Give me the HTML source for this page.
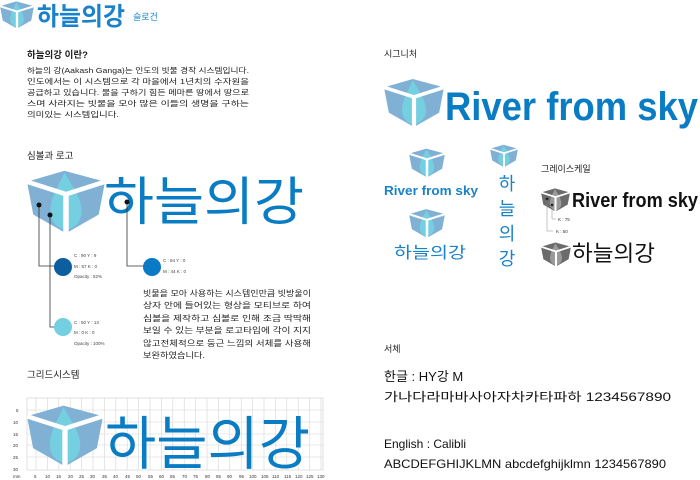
<!DOCTYPE html>
<html><head><meta charset="utf-8"><style>
html,body{margin:0;padding:0;background:#fff;}
svg{display:block;}
text{font-family:"Liberation Sans","Noto Sans CJK KR",sans-serif;}
</style></head><body>
<svg width="700" height="480" viewBox="0 0 700 480" xmlns="http://www.w3.org/2000/svg">
<defs>
<symbol id="logo" viewBox="0 0 100 80">
<polygon points="0,14 48,0 100,14 92,56 50,80 8,56" fill="#80b1d4"/>
<path d="M48,2 C40,20 30,35 30,52 C30,66 40,74 50,76 C60,74 70,66 70,52 C70,35 58,20 48,2Z" fill="#74cfe0"/>
<polyline points="0,14 50,30 100,14" fill="none" stroke="#fff" stroke-width="6"/>
<line x1="50" y1="30" x2="50" y2="80" stroke="#fff" stroke-width="7"/>
</symbol>
<symbol id="glogo" viewBox="0 0 100 80">
<polygon points="0,14 48,0 100,14 92,56 50,80 8,56" fill="#6b6b6b"/>
<path d="M48,2 C40,20 30,35 30,52 C30,66 40,74 50,76 C60,74 70,66 70,52 C70,35 58,20 48,2Z" fill="#9a9a9a"/>
<polyline points="0,14 50,30 100,14" fill="none" stroke="#fff" stroke-width="6"/>
<line x1="50" y1="30" x2="50" y2="80" stroke="#fff" stroke-width="7"/>
</symbol>
</defs>

<!-- header -->
<use href="#logo" x="0" y="0" width="34" height="30"/>
<text x="37" y="25" font-size="25" font-weight="bold" fill="#1a82c8" textLength="88" lengthAdjust="spacingAndGlyphs">하늘의강</text>
<text x="133" y="20" font-size="9" fill="#1a82c8">슬로건</text>

<text x="27" y="58" font-size="9.5" font-weight="bold" fill="#222">하늘의강 이란?</text>
<g font-size="7.2" fill="#222">
<text x="27" y="73" textLength="222" lengthAdjust="spacingAndGlyphs">하늘의 강(Aakash Ganga)는 인도의 빗물 경작 시스템입니다.</text>
<text x="27" y="84" textLength="222" lengthAdjust="spacingAndGlyphs">인도에서는 이 시스템으로 각 마을에서 1년치의 수자원을</text>
<text x="27" y="95" textLength="222" lengthAdjust="spacingAndGlyphs">공급하고 있습니다. 물을 구하기 힘든 메마른 땅에서 땅으로</text>
<text x="27" y="106" textLength="222" lengthAdjust="spacingAndGlyphs">스며 사라지는 빗물을 모아 많은 이들의 생명을 구하는</text>
<text x="27" y="117" textLength="92" lengthAdjust="spacingAndGlyphs">의미있는 시스템입니다.</text>
</g>

<text x="27" y="159" font-size="9.5" fill="#222">심볼과 로고</text>
<use href="#logo" x="27" y="170" width="78" height="64"/>
<text x="104" y="220" font-size="52" fill="#0a7cc4" textLength="200" lengthAdjust="spacingAndGlyphs">하늘의강</text>

<g stroke="#333" stroke-width="0.8" fill="none">
<polyline points="39,205 39,266 60,266"/>
<polyline points="50,215 50,327 58,327"/>
<polyline points="127,202 127,266 145,266"/>
</g>
<circle cx="39" cy="205" r="2.5" fill="#111"/>
<circle cx="50" cy="215" r="2.5" fill="#111"/>
<circle cx="127" cy="202" r="2.5" fill="#111"/>
<circle cx="63" cy="267" r="9" fill="#0b5f9f"/>
<circle cx="63" cy="327" r="9" fill="#74cfe0"/>
<circle cx="152" cy="267" r="9" fill="#0a7ac4"/>
<g font-size="4.5" fill="#444">
<text x="74" y="257">C : 90    Y : 9</text>
<text x="74" y="268">M : 57   K : 0</text>
<text x="74" y="278">Opacity : 52%</text>
<text x="74" y="324">C : 50    Y : 13</text>
<text x="74" y="334">M : 0     K : 0</text>
<text x="74" y="345">Opacity : 100%</text>
<text x="163" y="262">C : 84    Y : 0</text>
<text x="163" y="273">M : 44    K : 0</text>
</g>
<g font-size="8" fill="#222">
<text x="143" y="296" textLength="168" lengthAdjust="spacingAndGlyphs">빗물을 모아 사용하는 시스템인만큼 빗방울이</text>
<text x="143" y="308" textLength="168" lengthAdjust="spacingAndGlyphs">상자 안에 들어있는 형상을 모티브로 하여</text>
<text x="143" y="321" textLength="168" lengthAdjust="spacingAndGlyphs">심볼을 제작하고 심볼로 인해 조금 딱딱해</text>
<text x="143" y="333" textLength="168" lengthAdjust="spacingAndGlyphs">보일 수 있는 부분을 로고타입에 각이 지지</text>
<text x="143" y="346" textLength="168" lengthAdjust="spacingAndGlyphs">않고전체적으로 둥근 느낌의 서체를 사용해</text>
<text x="143" y="358" textLength="62" lengthAdjust="spacingAndGlyphs">보완하였습니다.</text>
</g>

<text x="27" y="378" font-size="9.5" fill="#222">그리드시스템</text>
<!-- grid -->
<g stroke="#d6d6d6" stroke-width="0.6">
<rect x="27" y="398" width="296" height="72" fill="none" stroke="#ccc"/>
<g id="vl">
<line x1="36" y1="398" x2="36" y2="470"/><line x1="47.4" y1="398" x2="47.4" y2="470"/><line x1="58.8" y1="398" x2="58.8" y2="470"/><line x1="70.2" y1="398" x2="70.2" y2="470"/><line x1="81.6" y1="398" x2="81.6" y2="470"/><line x1="93" y1="398" x2="93" y2="470"/><line x1="104.4" y1="398" x2="104.4" y2="470"/><line x1="115.8" y1="398" x2="115.8" y2="470"/><line x1="127.2" y1="398" x2="127.2" y2="470"/><line x1="138.6" y1="398" x2="138.6" y2="470"/><line x1="150" y1="398" x2="150" y2="470"/><line x1="161.4" y1="398" x2="161.4" y2="470"/><line x1="172.8" y1="398" x2="172.8" y2="470"/><line x1="184.2" y1="398" x2="184.2" y2="470"/><line x1="195.6" y1="398" x2="195.6" y2="470"/><line x1="207" y1="398" x2="207" y2="470"/><line x1="218.4" y1="398" x2="218.4" y2="470"/><line x1="229.8" y1="398" x2="229.8" y2="470"/><line x1="241.2" y1="398" x2="241.2" y2="470"/><line x1="252.6" y1="398" x2="252.6" y2="470"/><line x1="264" y1="398" x2="264" y2="470"/><line x1="275.4" y1="398" x2="275.4" y2="470"/><line x1="286.8" y1="398" x2="286.8" y2="470"/><line x1="298.2" y1="398" x2="298.2" y2="470"/><line x1="309.6" y1="398" x2="309.6" y2="470"/><line x1="321" y1="398" x2="321" y2="470"/>
</g>
<line x1="27" y1="410" x2="323" y2="410"/><line x1="27" y1="422" x2="323" y2="422"/><line x1="27" y1="434" x2="323" y2="434"/><line x1="27" y1="445" x2="323" y2="445"/><line x1="27" y1="457" x2="323" y2="457"/>
</g>
<use href="#logo" x="27" y="400" width="76" height="72" preserveAspectRatio="none"/>
<text x="105" y="464" font-size="58" fill="#0a7cc4" textLength="205" lengthAdjust="spacingAndGlyphs">하늘의강</text>
<g font-size="4.5" fill="#333">
<text x="16" y="412">5</text><text x="13" y="424">10</text><text x="13" y="436">15</text><text x="13" y="447">20</text><text x="13" y="459">25</text><text x="13" y="471">30</text><text x="13" y="478">mm</text>
<text x="34" y="478">5</text><text x="45" y="478">10</text><text x="56" y="478">15</text><text x="68" y="478">20</text><text x="79" y="478">25</text><text x="90" y="478">30</text><text x="102" y="478">35</text><text x="113" y="478">40</text><text x="125" y="478">45</text><text x="136" y="478">50</text><text x="148" y="478">55</text><text x="159" y="478">60</text><text x="170" y="478">65</text><text x="182" y="478">70</text><text x="193" y="478">75</text><text x="205" y="478">80</text><text x="216" y="478">85</text><text x="227" y="478">90</text><text x="239" y="478">95</text><text x="249" y="478">100</text><text x="261" y="478">105</text><text x="272" y="478">110</text><text x="284" y="478">115</text><text x="295" y="478">120</text><text x="306" y="478">125</text><text x="317" y="478">130</text>
</g>

<!-- right -->
<text x="384" y="57" font-size="9" fill="#222">시그니처</text>
<use href="#logo" x="384" y="75" width="60" height="56"/>
<text x="445" y="120" font-size="40" font-weight="bold" fill="#0a7cc4" textLength="253" lengthAdjust="spacingAndGlyphs">River from sky</text>

<use href="#logo" x="409" y="145" width="36" height="36"/>
<text x="384" y="195" font-size="13" font-weight="bold" fill="#1a82c8" textLength="94" lengthAdjust="spacingAndGlyphs">River from sky</text>
<use href="#logo" x="409" y="206" width="36" height="35"/>
<text x="394" y="258" font-size="16" fill="#1a82c8" textLength="72" lengthAdjust="spacingAndGlyphs">하늘의강</text>
<use href="#logo" x="490" y="143" width="28" height="26"/>
<g font-size="18" fill="#1a82c8" text-anchor="middle">
<text x="507" y="190">하</text><text x="507" y="215">늘</text><text x="507" y="240">의</text><text x="507" y="265">강</text>
</g>

<text x="541" y="172" font-size="9" fill="#222">그레이스케일</text>
<use href="#glogo" x="541" y="185" width="29" height="30"/>
<text x="572" y="207" font-size="20" font-weight="bold" fill="#111" textLength="126" lengthAdjust="spacingAndGlyphs">River from sky</text>
<circle cx="547" cy="199" r="1.3" fill="#111"/><circle cx="552" cy="205" r="1.3" fill="#111"/>
<g stroke="#888" stroke-width="0.5" fill="none"><polyline points="547,199 547,231 553,231"/><polyline points="552,205 552,219 556,219"/></g>
<g font-size="4.5" fill="#333"><text x="558" y="221">K : 75</text><text x="556" y="233">K : 50</text></g>
<use href="#glogo" x="541" y="240" width="30" height="29"/>
<text x="572" y="261" font-size="22" fill="#111" textLength="83" lengthAdjust="spacingAndGlyphs">하늘의강</text>

<text x="384" y="352" font-size="9" fill="#222">서체</text>
<text x="384" y="381" font-size="13" fill="#111">한글 : HY강 M</text>
<text x="384" y="401" font-size="12" fill="#111" textLength="287" lengthAdjust="spacingAndGlyphs">가나다라마바사아자차카타파하 1234567890</text>
<text x="384" y="448" font-size="12" fill="#111">English : Calibli</text>
<text x="384" y="468" font-size="12" fill="#111" textLength="282" lengthAdjust="spacingAndGlyphs">ABCDEFGHIJKLMN abcdefghijklmn 1234567890</text>
</svg>
</body></html>
